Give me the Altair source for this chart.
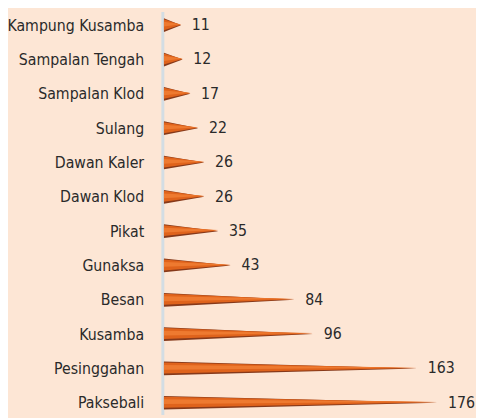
import altair as alt
import pandas as pd

names = ["Kampung Kusamba", "Sampalan Tengah", "Sampalan Klod", "Sulang",
         "Dawan Kaler", "Dawan Klod", "Pikat", "Gunaksa", "Besan",
         "Kusamba", "Pesinggahan", "Paksebali"]
values = [11, 12, 17, 22, 26, 26, 35, 43, 84, 96, 163, 176]

rows = []
for i, (n, v) in enumerate(zip(names, values)):
    rows.append({"name": n, "idx": i, "value": v, "x": 0, "tip": 0})
    rows.append({"name": n, "idx": i, "value": v, "x": v, "tip": 1})
cone = pd.DataFrame(rows)
labels = pd.DataFrame({"name": names, "idx": list(range(len(names))), "value": values})

FONT = "DejaVu Sans Condensed, DejaVu Sans, sans-serif"
xs = alt.Scale(domain=[-1, 201])
ys = alt.Scale(domain=[-0.401, 11.344], range=[0, 410], nice=False, zero=False)
label_expr = "[" + ",".join("'%s'" % n for n in names) + "][datum.value]"
yaxis = alt.Axis(title=None, ticks=False, labelPadding=19,
                 values=list(range(len(names))), tickCount=len(names),
                 labelExpr=label_expr, labelOverlap=False, labelBound=False,
                 labelFont=FONT, labelFontSize=16,
                 labelColor="#2a2a2a", domainColor="#d3dde4",
                 domainWidth=3, grid=False)

def cone_layer(color, half, shift=0.0):
    return alt.Chart(cone).mark_area(color=color, orient="vertical").transform_calculate(
        lo=f"datum.idx + {shift} - {half} * (1 - datum.tip)",
        hi=f"datum.idx + {shift} + {half} * (1 - datum.tip)",
    ).encode(
        x=alt.X("x:Q", scale=xs, axis=None),
        y=alt.Y("lo:Q", scale=ys, stack=None, axis=yaxis),
        y2="hi",
        detail="name:N",
    )

dark = cone_layer("#86391a", 0.2)
mid = cone_layer("#df631c", 0.16, -0.015)
light = cone_layer("#ee7a30", 0.07, -0.03)

text = alt.Chart(labels).mark_text(align="left", baseline="middle", dx=11,
                                   font=FONT, fontSize=16, color="#2a2a2a").encode(
    x=alt.X("value:Q", scale=xs, axis=None),
    y=alt.Y("idx:Q", scale=ys, axis=yaxis),
    text="value:Q",
)

chart = (dark + mid + light + text).properties(
    width=319, height=410, autosize="none",
    padding={"left": 157, "top": 0, "right": 0, "bottom": 0},
    background="#fde6d5",
).configure_view(stroke=None)

chart.save("out.html", embed_options={"renderer": "svg", "actions": False})
